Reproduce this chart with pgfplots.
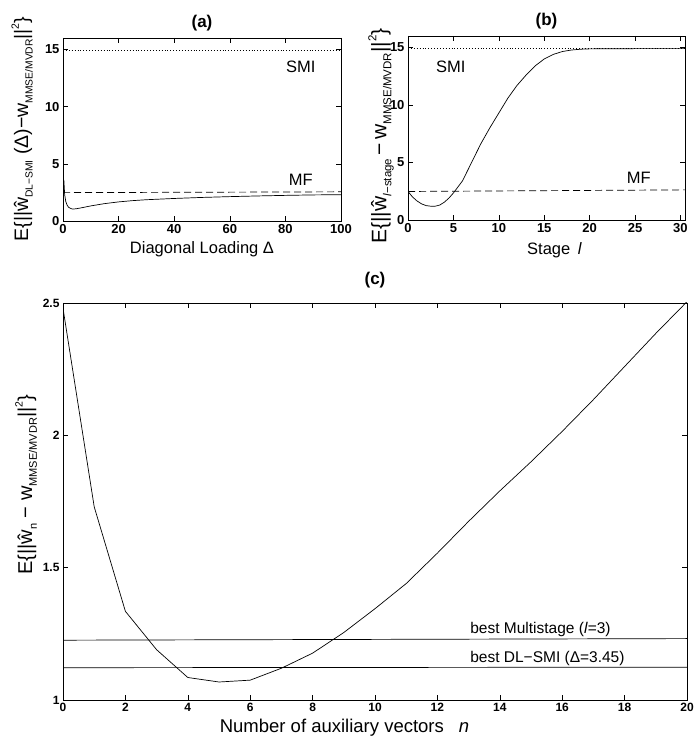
\documentclass[border=0pt]{standalone}
\usepackage{pgfplots}
\pgfplotsset{compat=1.18}
\usepackage{fontspec}
\setmainfont{Liberation Sans}
\newcommand\fs[1]{\fontsize{#1}{#1}\selectfont}
\newcommand\sub[2][10.5]{\raisebox{-0.45ex}{\fs{#1}#2}}
\newcommand\sups[2][11]{\raisebox{0.9ex}{\fs{#1}#2}}
\begin{document}
\begin{tikzpicture}
\useasboundingbox (0pt,0pt) rectangle (695pt,744pt);
\pgfplotsset{
  every axis/.append style={
    scale only axis, anchor=south west,
    tick align=inside, major tick length=5pt,
    axis line style={line width=0.8pt},
    every tick/.style={black, line width=0.6pt},
    /pgf/number format/assume math mode=true,
    tick label style={font=\fs{13}\bfseries},
    label style={font=\fs{16.5}},
  },
  every axis title/.style={at={(0.5,1)}, anchor=base, font=\fs{17}\bfseries},
  every axis x label/.style={at={(axis description cs:0.5,0)}, anchor=base},
  every axis y label/.style={rotate=90, anchor=west},
}
% ---------------- (a)
\begin{axis}[at={(63pt,523pt)}, width=278pt, height=183pt,
  xmin=0, xmax=100, ymin=0, ymax=16,
  xtick={0,20,40,60,80,100}, ytick={0,5,10,15},
  xlabel={Diagonal Loading Δ},
  xlabel style={yshift=-33pt},
  ylabel={\fs{19.5}E\{||\^{w}\sub[10.3]{DL−SMI} (Δ)−w\sub[10.3]{MMSE/MVDR}||\sups[10.5]{2}\}},
  ylabel style={at={(axis description cs:-0.147,-0.131)}},
  title={(a)}, title style={yshift=10pt}]
\addplot[black, line width=0.7pt] coordinates {
 (0.3,3.6)(0.6,2.3)(1,1.7)(1.5,1.38)(2,1.2)(3,1.07)(3.6,1.04)(5,1.08)(7,1.17)
 (10,1.32)(15,1.52)(20,1.67)(25,1.78)(30,1.86)(40,1.97)(50,2.06)(60,2.13)
 (70,2.19)(80,2.24)(90,2.28)(100,2.3)};
\addplot[black, dotted, line width=0.9pt] coordinates {(0,14.9)(100,14.9)};
\addplot[black, dash pattern=on 7pt off 4pt, line width=0.7pt] coordinates {(0,2.48)(100,2.55)};
\node[anchor=west, font=\fs{16.5}] at (axis cs:79,13.5) {SMI};
\node[anchor=west, font=\fs{16.5}] at (axis cs:80,3.6) {MF};
\end{axis}
% ---------------- (b)
\begin{axis}[at={(408pt,524pt)}, width=277pt, height=184pt,
  xmin=0, xmax=30.5, ymin=0, ymax=16,
  xtick={0,5,10,15,20,25,30}, ytick={0,5,10,15},
  xlabel={Stage\hspace{0.45em}\textit{l}},
  xlabel style={yshift=-35pt, xshift=8pt},
  ylabel={\fs{21}E\{||\^{w}\sub[11.5]{\textit{l}−stage}\,−\,w\sub[11.5]{MMSE/MVDR}||\sups[11.5]{2}\}},
  ylabel style={at={(axis description cs:-0.097,-0.147)}},
  title={(b)}, title style={yshift=10.5pt}]
\addplot[black, line width=0.7pt] coordinates {
 (0,2.48)(0.5,2.0)(1,1.65)(1.5,1.4)(2,1.25)(2.5,1.2)(3,1.2)(3.5,1.3)(4,1.55)
 (4.5,1.9)(5,2.35)(6,3.4)(7,5.0)(8,6.6)(9,8.0)(10,9.3)(11,10.6)(12,11.7)
 (13,12.6)(14,13.4)(15,14.0)(16,14.4)(17,14.65)(18,14.78)(19,14.85)(20,14.88)
 (25,14.9)(30.5,14.9)};
\addplot[black, dotted, line width=0.9pt] coordinates {(0,14.9)(30.5,14.9)};
\addplot[black, dash pattern=on 7pt off 4pt, line width=0.7pt] coordinates {(0,2.48)(30.5,2.62)};
\node[anchor=west, font=\fs{16.5}] at (axis cs:2.7,13.3) {SMI};
\node[anchor=west, font=\fs{16.5}] at (axis cs:23.7,3.7) {MF};
\end{axis}
% ---------------- (c)
\begin{axis}[at={(63pt,44pt)}, width=624pt, height=397pt,
  xmin=0, xmax=20, ymin=1, ymax=2.5,
  xtick={0,2,...,20}, ytick={1,1.5,2,2.5},
  tick label style={font=\fs{12}\bfseries},
  xlabel={Number of auxiliary vectors\hspace{0.8em}\textit{n}},
  xlabel style={at={(axis description cs:0.451,0)}, font=\fs{18.5}, yshift=-33pt},
  ylabel={\fs{20}E\{||\^{w}\sub[11]{n} − w\sub[11]{MMSE/MVDR}||\sups[10.5]{2}\}},
  ylabel style={at={(axis description cs:-0.059,0.307)}},
  title={(c)}, title style={yshift=18pt}]
\addplot[black, line width=0.7pt] coordinates {
 (0,2.48)(1,1.73)(2,1.335)(3,1.19)(4,1.085)(5,1.068)(6,1.075)(7,1.12)(8,1.177)
 (9,1.255)(10,1.345)(11,1.44)(12,1.555)(13,1.675)(14,1.79)(15,1.9)(16,2.015)
 (17,2.135)(18,2.26)(19,2.385)(20,2.505)};
\addplot[black, line width=0.7pt] coordinates {(0,1.226)(20,1.232)};
\addplot[black, line width=0.7pt] coordinates {(0,1.122)(20,1.124)};
\node[anchor=south west, font=\fs{15.5}, inner sep=1.5pt] at (axis cs:13,1.232) {best Multistage (\textit{l}=3)};
\node[anchor=south west, font=\fs{15.5}, inner sep=1.5pt] at (axis cs:13,1.124) {best DL−SMI (Δ=3.45)};
\end{axis}
\end{tikzpicture}
\end{document}
